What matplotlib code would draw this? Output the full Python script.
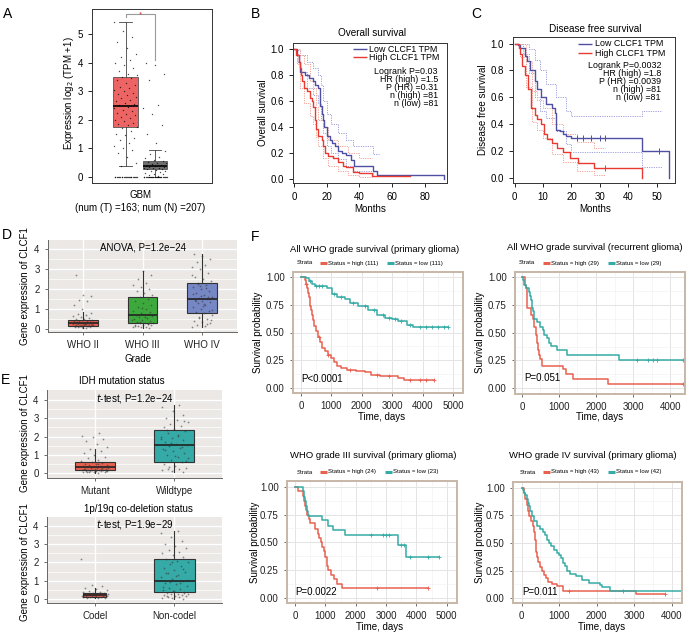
import numpy as np
import matplotlib
matplotlib.use('Agg')
import matplotlib.pyplot as plt
from matplotlib.lines import Line2D

plt.rcParams['font.family'] = ['Liberation Sans', 'DejaVu Sans']
plt.rcParams['font.size'] = 7
plt.rcParams['axes.unicode_minus'] = True

W, H = 696, 634
fig = plt.figure(figsize=(W / 100, H / 100), dpi=100)

# ---------------- data ----------------
# Panel A (GEPIA boxplot)
A_groups = ['Tumor', 'Normal']
A_tumor_stats = [1.75, 2.48, 3.5, 0.4, 5.42]   # q1, med, q3, whislo, whishi
A_normal_stats = [0.27, 0.38, 0.55, 0.0, 0.93]
A_tumor_pts = [0.0] * 22 + [0.4, 0.5, 0.7, 0.85, 0.95, 1.0, 1.1, 1.2, 1.3, 1.35, 1.45, 1.5, 1.6, 1.7, 1.75,
                            1.8, 1.85, 1.9, 1.95, 2.0, 2.05, 2.1, 2.15, 2.2, 2.25, 2.3, 2.35, 2.4, 2.45, 2.5,
                            2.55, 2.6, 2.65, 2.7, 2.75, 2.8, 2.85, 2.9, 2.95, 3.0, 3.05, 3.1, 3.15, 3.2, 3.3,
                            3.4, 3.45, 3.5, 3.55, 3.6, 3.7, 3.8, 3.9, 4.0, 4.1, 4.2, 4.3, 4.5, 4.7, 4.9, 5.1, 5.4]
A_normal_pts = [0.0] * 22 + [0.05, 0.08, 0.1, 0.12, 0.15, 0.18, 0.2, 0.22, 0.25, 0.27, 0.28, 0.3, 0.32, 0.33,
                             0.35, 0.36, 0.38, 0.4, 0.42, 0.45, 0.48, 0.5, 0.52, 0.55, 0.6, 0.65, 0.7, 0.8, 0.9,
                             1.2, 1.5, 1.8, 2.2, 2.4, 2.5, 3.4, 3.6, 3.9, 4.0]

# Panel B (overall survival, months)
B_low_t = [0, 2, 3, 4, 7, 9, 12, 13, 15, 16, 16.3, 17.3, 18, 18.7, 20.4, 22, 23.4, 25, 27, 29.5, 32, 35, 36.7, 48.5, 51, 91.6]
B_low_s = [1.0, 0.95, 0.9, 0.82, 0.8, 0.77, 0.75, 0.72, 0.7, 0.65, 0.56, 0.5, 0.45, 0.4, 0.33, 0.3, 0.27, 0.25, 0.21, 0.2, 0.18, 0.14, 0.1, 0.06, 0.025, 0.0]
B_high_t = [0, 1.5, 3, 3.8, 4.5, 5.3, 6, 8, 10, 11, 12, 13, 13.5, 15, 17, 18, 19, 21, 24, 27, 30, 32, 36, 40, 48, 71]
B_high_s = [1.0, 0.95, 0.9, 0.85, 0.8, 0.75, 0.7, 0.67, 0.62, 0.6, 0.55, 0.45, 0.38, 0.33, 0.3, 0.25, 0.2, 0.17, 0.16, 0.13, 0.1, 0.09, 0.05, 0.04, 0.02, 0.02]
B_ci_low_t = [0, 2, 4, 8, 12, 15, 16.5, 18, 20, 23, 27, 32, 36, 48.5, 52]
B_ci_low_up = [1.0, 0.99, 0.95, 0.9, 0.85, 0.8, 0.72, 0.6, 0.5, 0.42, 0.35, 0.3, 0.25, 0.19, 0.19]
B_ci_low_lo = [1.0, 0.9, 0.82, 0.7, 0.64, 0.58, 0.45, 0.35, 0.25, 0.2, 0.15, 0.1, 0.06, 0.02, 0.02]
B_ci_high_t = [0, 2, 4, 6, 10, 12, 13.5, 15, 18, 21, 27, 33, 40, 48]
B_ci_high_up = [1.0, 1.0, 0.95, 0.88, 0.75, 0.7, 0.55, 0.45, 0.4, 0.3, 0.25, 0.2, 0.16, 0.16]
B_ci_high_lo = [1.0, 0.88, 0.7, 0.58, 0.48, 0.42, 0.32, 0.25, 0.16, 0.1, 0.06, 0.03, 0.01, 0.01]
B_stats = ['Logrank P=0.03', 'HR (high) =1.5', 'P (HR) =0.31', 'n (high) =81', 'n (low) =81']

# Panel C (disease free survival, months)
C_low_t = [0, 1, 2, 3.7, 4.5, 5.5, 7, 8, 9.4, 11, 13, 14.3, 14.5, 16, 17, 18, 20, 44.7, 54.5]
C_low_s = [1.0, 0.99, 0.97, 0.91, 0.87, 0.8, 0.72, 0.66, 0.6, 0.55, 0.52, 0.48, 0.36, 0.35, 0.33, 0.31, 0.295, 0.2, 0.0]
C_high_t = [0, 1.5, 2, 2.5, 3.5, 4.7, 5.6, 7, 8, 9.4, 10.5, 11.5, 13, 15, 17, 19.5, 22.4, 28, 44.7]
C_high_s = [1.0, 0.97, 0.92, 0.83, 0.77, 0.66, 0.52, 0.47, 0.44, 0.4, 0.33, 0.29, 0.26, 0.22, 0.19, 0.15, 0.11, 0.075, 0.0]
C_low_cens = [22, 24, 27, 30, 32, 51]
C_high_cens = [32]
C_ci_low_t = [0, 3, 5, 7, 9, 11, 14.5, 18, 20, 44.7, 52]
C_ci_low_up = [1.0, 1.0, 0.96, 0.88, 0.8, 0.7, 0.6, 0.5, 0.46, 0.5, 0.5]
C_ci_low_lo = [1.0, 0.92, 0.78, 0.6, 0.5, 0.45, 0.35, 0.25, 0.19, 0.08, 0.08]
C_ci_high_t = [0, 2, 4, 6, 8, 10, 13, 17, 22, 28, 32]
C_ci_high_up = [1.0, 1.0, 0.87, 0.65, 0.58, 0.52, 0.4, 0.33, 0.27, 0.22, 0.22]
C_ci_high_lo = [1.0, 0.9, 0.68, 0.42, 0.36, 0.3, 0.18, 0.12, 0.05, 0.02, 0.02]
C_stats = ['Logrank P=0.0032', 'HR (high) =1.8', 'P (HR) =0.0039', 'n (high) =81', 'n (low) =81']

# Panel D (grade)
D_cats = ['WHO II', 'WHO III', 'WHO IV']
D_box = [[0.15, 0.3, 0.45, 0.03, 0.83], [0.32, 0.68, 1.58, 0.05, 2.92], [0.78, 1.5, 2.32, 0.1, 3.75]]
D_pts = [
    [0.05, 0.08, 0.1, 0.12, 0.14, 0.15, 0.16, 0.18, 0.19, 0.2, 0.21, 0.22, 0.23, 0.24, 0.25, 0.26, 0.27, 0.28,
     0.29, 0.3, 0.31, 0.32, 0.33, 0.35, 0.36, 0.38, 0.4, 0.42, 0.45, 0.48, 0.5, 0.55, 0.6, 0.65, 0.7, 0.75, 0.8,
     0.06, 0.09, 0.13, 0.17, 0.22, 0.27, 0.31, 0.37, 1.0, 1.2, 1.42, 1.47, 1.65, 1.72, 2.72],
    [0.05, 0.08, 0.1, 0.12, 0.15, 0.18, 0.2, 0.22, 0.25, 0.28, 0.3, 0.32, 0.35, 0.4, 0.45, 0.5, 0.55, 0.6, 0.65,
     0.68, 0.7, 0.75, 0.8, 0.9, 1.0, 1.1, 1.2, 1.3, 1.4, 1.5, 1.6, 1.7, 1.8, 1.9, 2.0, 2.1, 2.2, 2.3, 2.5, 2.7,
     2.9, 0.15, 0.25, 0.35, 0.45, 0.62, 0.72, 0.85, 1.05],
    [0.1, 0.15, 0.2, 0.3, 0.35, 0.4, 0.5, 0.6, 0.7, 0.8, 0.85, 0.9, 1.0, 1.1, 1.2, 1.3, 1.35, 1.4, 1.45, 1.5,
     1.55, 1.6, 1.7, 1.8, 1.9, 2.0, 2.1, 2.2, 2.3, 2.4, 2.5, 2.6, 2.8, 3.0, 3.1, 3.2, 3.35, 3.5, 3.65, 3.75,
     0.25, 0.55, 0.95, 1.25, 1.42, 1.52, 1.65, 1.75, 2.05, 2.25, 0.45, 1.15, 1.48, 1.58, 2.15, 2.7]]

# Panel E (IDH, 1p/19q)
E1_cats = ['Mutant', 'Wildtype']
E1_box = [[0.16, 0.35, 0.62, 0.02, 1.3], [0.63, 1.53, 2.36, 0.05, 3.72]]
E1_pts = [
    [0.02, 0.04, 0.05, 0.06, 0.08, 0.1, 0.11, 0.12, 0.13, 0.14, 0.15, 0.16, 0.17, 0.18, 0.19, 0.2, 0.22, 0.24,
     0.25, 0.27, 0.28, 0.3, 0.32, 0.33, 0.35, 0.37, 0.4, 0.42, 0.45, 0.48, 0.5, 0.55, 0.6, 0.65, 0.7, 0.8, 0.9,
     1.0, 1.1, 1.2, 1.3, 1.45, 1.6, 1.75, 1.85, 1.95, 2.05, 2.2, 0.07, 0.09, 0.14, 0.21, 0.26, 0.31, 0.38, 0.52],
    [0.05, 0.1, 0.15, 0.2, 0.25, 0.3, 0.4, 0.5, 0.6, 0.7, 0.8, 0.9, 1.0, 1.1, 1.2, 1.3, 1.4, 1.5, 1.55, 1.6,
     1.7, 1.8, 1.9, 2.0, 2.1, 2.2, 2.3, 2.4, 2.5, 2.6, 2.7, 2.8, 2.9, 3.0, 3.2, 3.4, 3.6, 3.72, 0.35, 0.65,
     0.95, 1.25, 1.45, 1.65, 1.85, 2.05, 2.35, 2.85]]
E2_cats = ['Codel', 'Non-codel']
E2_box = [[0.11, 0.24, 0.33, 0.05, 0.6], [0.38, 1.0, 2.2, 0.02, 3.72]]
E2_pts = [
    [0.05, 0.07, 0.08, 0.1, 0.11, 0.12, 0.13, 0.14, 0.15, 0.16, 0.17, 0.18, 0.19, 0.2, 0.21, 0.22, 0.23, 0.24,
     0.25, 0.26, 0.27, 0.28, 0.3, 0.32, 0.34, 0.36, 0.4, 0.45, 0.5, 0.55, 0.6, 0.7, 0.78, 2.2],
    [0.02, 0.05, 0.08, 0.1, 0.12, 0.15, 0.18, 0.2, 0.22, 0.25, 0.28, 0.3, 0.35, 0.4, 0.45, 0.5, 0.55, 0.6, 0.7,
     0.8, 0.9, 1.0, 1.1, 1.2, 1.3, 1.4, 1.5, 1.6, 1.7, 1.8, 1.9, 2.0, 2.1, 2.2, 2.3, 2.4, 2.5, 2.6, 2.7, 2.8,
     2.9, 3.0, 3.2, 3.4, 3.6, 3.72, 0.15, 0.32, 0.42, 0.65, 0.85, 0.95, 1.05, 1.25, 1.45, 1.65, 2.05]]

# Panel F (KM curves, days)
F1_high_t = [0, 130, 160, 190, 220, 250, 280, 310, 340, 370, 400, 440, 490, 550, 620, 700, 800, 900, 1000, 1100, 1200, 1300, 1500, 1800, 2100, 2300, 2600, 3200, 3400, 4380]
F1_high_s = [1.0, 0.97, 0.94, 0.9, 0.86, 0.82, 0.78, 0.74, 0.7, 0.66, 0.61, 0.56, 0.51, 0.46, 0.41, 0.36, 0.33, 0.3, 0.27, 0.23, 0.2, 0.18, 0.16, 0.15, 0.14, 0.12, 0.11, 0.09, 0.07, 0.07]
F1_low_t = [0, 150, 250, 350, 450, 850, 1010, 1175, 1450, 1600, 1890, 2200, 2500, 2770, 3000, 3200, 3480, 3700, 4850]
F1_low_s = [1.0, 0.99, 0.96, 0.94, 0.92, 0.9, 0.85, 0.82, 0.8, 0.77, 0.74, 0.7, 0.66, 0.63, 0.62, 0.6, 0.57, 0.55, 0.55]
F1_high_cens = [180, 600, 900, 1600, 2500, 2900, 3600, 3900, 4100, 4380]
F1_low_cens = [300, 500, 600, 700, 1100, 1300, 1700, 2100, 2400, 2700, 2900, 3100, 3300, 3600, 3900, 4100, 4300, 4500, 4700, 4850]

F2_high_t = [0, 80, 100, 130, 150, 240, 290, 320, 370, 400, 430, 470, 500, 540, 1120, 1200, 1390, 2310, 4350]
F2_high_s = [1.0, 0.93, 0.9, 0.83, 0.72, 0.66, 0.62, 0.55, 0.48, 0.41, 0.34, 0.3, 0.26, 0.2, 0.17, 0.13, 0.08, 0.04, 0.04]
F2_low_t = [0, 30, 60, 100, 200, 230, 250, 270, 290, 315, 400, 495, 560, 610, 675, 720, 790, 945, 1215, 2610, 4350]
F2_low_s = [1.0, 0.97, 0.93, 0.9, 0.86, 0.83, 0.79, 0.72, 0.69, 0.62, 0.59, 0.55, 0.52, 0.48, 0.45, 0.41, 0.38, 0.34, 0.3, 0.25, 0.25]
F2_high_cens = [4350]
F2_low_cens = [3100, 3400, 3550, 3650, 4350]

F3_high_t = [0, 100, 250, 290, 320, 350, 400, 450, 500, 650, 750, 800, 850, 900, 950, 1000, 1050, 1100, 1200, 1300, 1400, 1550, 4400]
F3_high_s = [1.0, 0.96, 0.92, 0.87, 0.83, 0.79, 0.75, 0.71, 0.67, 0.62, 0.58, 0.54, 0.5, 0.46, 0.42, 0.37, 0.29, 0.25, 0.21, 0.17, 0.13, 0.09, 0.09]
F3_low_t = [0, 250, 280, 320, 350, 380, 440, 900, 1100, 1250, 1650, 3400, 3650, 4750]
F3_low_s = [1.0, 0.96, 0.91, 0.87, 0.83, 0.78, 0.74, 0.70, 0.65, 0.61, 0.565, 0.48, 0.37, 0.37]
F3_high_cens = [2700, 4400]
F3_low_cens = [2500, 2900, 3000, 3100, 3500, 3600, 3800, 4400, 4750]

F4_high_t = [0, 50, 100, 150, 170, 190, 250, 300, 330, 350, 370, 390, 410, 440, 480, 550, 600, 650, 700, 800, 950, 1100, 3050, 3830]
F4_high_s = [1.0, 0.95, 0.9, 0.84, 0.79, 0.74, 0.7, 0.65, 0.6, 0.53, 0.48, 0.42, 0.37, 0.33, 0.28, 0.25, 0.21, 0.18, 0.15, 0.13, 0.11, 0.07, 0.035, 0.035]
F4_low_t = [0, 30, 60, 100, 150, 180, 200, 230, 280, 320, 400, 500, 580, 620, 680, 720, 780, 850, 930, 1000, 1050, 1100, 1150, 1200, 1280, 1450, 1600, 1800, 2100, 2150, 2350, 4450]
F4_low_s = [1.0, 0.98, 0.95, 0.93, 0.9, 0.86, 0.83, 0.79, 0.74, 0.7, 0.65, 0.63, 0.6, 0.57, 0.53, 0.5, 0.47, 0.44, 0.41, 0.39, 0.36, 0.32, 0.29, 0.25, 0.22, 0.2, 0.17, 0.14, 0.12, 0.1, 0.07, 0.07]
F4_high_cens = [1250, 3830]
F4_low_cens = [2700, 4450]

# ---------------- helpers ----------------
def add_ax(l, t, r, b):
    return fig.add_axes([l / W, 1 - b / H, (r - l) / W, (b - t) / H])

def ftext(x, y, s, **kw):
    kw.setdefault('ha', 'center')
    kw.setdefault('va', 'center')
    return fig.text(x / W, 1 - y / H, s, **kw)

def fline(x0, x1, y, color, lw):
    fig.add_artist(Line2D([x0 / W, x1 / W], [1 - y / H, 1 - y / H], color=color, lw=lw,
                          transform=fig.transFigure, solid_capstyle='butt'))

def jit(n, width, phase=0.0):
    return ((np.arange(1, n + 1) * 0.6180339887 + phase) % 1.0 - 0.5) * width

def stats_list(boxes):
    return [dict(q1=b[0], med=b[1], q3=b[2], whislo=b[3], whishi=b[4], fliers=[]) for b in boxes]

def step_at(t, s, x):
    t = np.asarray(t); s = np.asarray(s)
    return s[np.clip(np.searchsorted(t, x, side='right') - 1, 0, len(s) - 1)]

RED_F, TEAL_F = '#E8604F', '#35ABA6'
BLUE_B, RED_B = '#4F4FA3', '#E83A30'

# ---------------- Panel A ----------------
axA = add_ax(92, 9, 212, 183)
posA = [1.34, 2.52]
axA.bxp(stats_list([A_tumor_stats, A_normal_stats]),
        positions=posA, widths=0.98, patch_artist=True, showfliers=False, showcaps=True, capwidths=0.5,
        boxprops=dict(lw=0.6, edgecolor='#555555'),
        medianprops=dict(color='black', lw=1.2),
        whiskerprops=dict(color='#444444', lw=0.6), capprops=dict(color='#444444', lw=0.6))
for patch, c in zip(axA.patches, ['#EC6464', '#6E6E6E']):
    patch.set_facecolor(c)
for pos, pts, ph in zip(posA, [A_tumor_pts, A_normal_pts], [0.1, 0.4]):
    axA.scatter(pos + jit(len(pts), 0.95, ph), pts, s=1.0, color='black', alpha=0.7, lw=0, zorder=3)
axA.plot([posA[0], posA[0], posA[1], posA[1]], [5.58, 5.71, 5.71, 4.1], color='#9A9A9A', lw=0.8)
axA.text((posA[0] + posA[1]) / 2, 5.66, '*', color='#E83030', fontsize=6, ha='center', va='center')
axA.set_xlim(0, 4.8)
axA.set_ylim(-0.21, 5.87)
axA.set_xticks([])
axA.set_yticks([0, 1, 2, 3, 4, 5])
axA.tick_params(axis='y', labelsize=7, length=3, width=0.6)
for sp in axA.spines.values():
    sp.set_linewidth(0.7); sp.set_color('#333333')
ftext(69, 93, 'Expression log$_2$ (TPM +1)', rotation=90, fontsize=7)
ftext(140, 195, 'GBM', fontsize=7)
ftext(140, 208, '(num (T) =163; num (N) =207)', fontsize=7)

# ---------------- Panel B / C ----------------
def r_style(ax):
    for sp in ax.spines.values():
        sp.set_linewidth(0.7); sp.set_color('#333333')
    ax.tick_params(labelsize=7, length=3, width=0.6, direction='out')

axB = add_ax(293, 43, 447, 183)
for t, s, c in [(B_ci_low_t, B_ci_low_up, '#A0A0DC'), (B_ci_low_t, B_ci_low_lo, '#A0A0DC'),
                (B_ci_high_t, B_ci_high_up, '#F4A295'), (B_ci_high_t, B_ci_high_lo, '#F4A295')]:
    axB.step(t, s, where='post', color=c, lw=0.7, ls=(0, (1.2, 1.2)))
axB.step(B_low_t, B_low_s, where='post', color=BLUE_B, lw=1.0)
axB.step(B_high_t, B_high_s, where='post', color=RED_B, lw=1.0)
axB.set_xlim(-0.5, 93.7)
axB.set_ylim(-0.034, 1.043)
axB.set_xticks([0, 20, 40, 60, 80])
axB.set_yticks([0, 0.2, 0.4, 0.6, 0.8, 1.0])
axB.set_yticklabels(['0.0', '0.2', '0.4', '0.6', '0.8', '1.0'])
r_style(axB)
fline(353, 367, 49, BLUE_B, 1.0); ftext(369, 49, 'Low CLCF1 TPM', ha='left', fontsize=6.4)
fline(353, 367, 57, RED_B, 1.0); ftext(369, 57, 'High CLCF1 TPM', ha='left', fontsize=6.4)
for i, s in enumerate(B_stats):
    ftext(438, 71 + 8 * i, s, ha='right', fontsize=6.4)
ftext(372, 33, 'Overall survival', fontsize=7.2)
ftext(263, 113, 'Overall survival', rotation=90, fontsize=7)
ftext(370, 209, 'Months', fontsize=7)

axC = add_ax(513, 37, 675, 183)
for t, s, c in [(C_ci_low_t, C_ci_low_up, '#A0A0DC'), (C_ci_low_t, C_ci_low_lo, '#A0A0DC'),
                (C_ci_high_t, C_ci_high_up, '#F4A295'), (C_ci_high_t, C_ci_high_lo, '#F4A295')]:
    axC.step(t, s, where='post', color=c, lw=0.7, ls=(0, (1.2, 1.2)))
axC.step(C_low_t, C_low_s, where='post', color=BLUE_B, lw=1.0)
axC.step(C_high_t, C_high_s, where='post', color=RED_B, lw=1.0)
axC.plot(C_low_cens, step_at(C_low_t, C_low_s, C_low_cens), ls='none', marker='|', ms=4, mew=0.7, color=BLUE_B)
axC.plot(C_high_cens, step_at(C_high_t, C_high_s, C_high_cens), ls='none', marker='|', ms=4, mew=0.7, color=RED_B)
axC.set_xlim(-0.6, 56.5)
axC.set_ylim(-0.037, 1.049)
axC.set_xticks([0, 10, 20, 30, 40, 50])
axC.set_yticks([0, 0.2, 0.4, 0.6, 0.8, 1.0])
axC.set_yticklabels(['0.0', '0.2', '0.4', '0.6', '0.8', '1.0'])
r_style(axC)
fline(578, 592, 44, BLUE_B, 1.0); ftext(595, 44, 'Low CLCF1 TPM', ha='left', fontsize=6.4)
fline(578, 592, 53, RED_B, 1.0); ftext(595, 53, 'High CLCF1 TPM', ha='left', fontsize=6.4)
for i, s in enumerate(C_stats):
    ftext(661, 66 + 8 * i, s, ha='right', fontsize=6.4)
ftext(595, 29, 'Disease free survival', fontsize=7.2)
ftext(483, 110, 'Disease free survival', rotation=90, fontsize=7)
ftext(595, 209, 'Months', fontsize=7)

# ---------------- Panel D / E (ggplot style) ----------------
def gg_style(ax, ylim):
    ax.set_facecolor('#EBE8E6')
    ax.set_ylim(*ylim)
    ax.set_yticks([0, 1, 2, 3, 4])
    ax.set_yticks([0.5, 1.5, 2.5, 3.5], minor=True)
    ax.grid(which='major', color='white', lw=1.0)
    ax.grid(which='minor', axis='y', color='white', lw=0.5)
    ax.set_axisbelow(True)
    for k in ['top', 'right']:
        ax.spines[k].set_visible(False)
    for k in ['left', 'bottom']:
        ax.spines[k].set_color('#666666'); ax.spines[k].set_linewidth(0.7)
    ax.tick_params(which='major', labelsize=7, length=2.5, width=0.6, color='#555555', labelcolor='#222222')
    ax.tick_params(which='minor', length=0)

def gg_box(ax, boxes, pts, colors, widths, pos):
    ax.bxp(stats_list(boxes), positions=pos, widths=widths, patch_artist=True, showfliers=False,
           showcaps=False, boxprops=dict(lw=0.8, edgecolor='#333333'),
           medianprops=dict(color='#222222', lw=1.2),
           whiskerprops=dict(color='#333333', lw=0.8), zorder=2)
    for patch, c in zip(ax.patches, colors):
        patch.set_facecolor(c)
    for i, (p, v) in enumerate(zip(pos, pts)):
        ax.scatter(p + jit(len(v), 0.35, 0.2 * i), v, s=1.6, color='#333333', alpha=0.55, lw=0, zorder=3)

axD = add_ax(48, 240, 237, 332)
gg_style(axD, (-0.15, 4.45))
gg_box(axD, D_box, D_pts, ['#E8604F', '#3DA93D', '#7587C4'], [0.5, 0.5, 0.5], [1, 2, 3])
axD.set_xlim(0.41, 3.59)
axD.set_xticks([1, 2, 3])
axD.set_xticklabels(D_cats)
axD.text(2, 4.05, 'ANOVA, P=1.2e\u221224', ha='center', va='center', fontsize=7)
ftext(25, 286, 'Gene expression of CLCF1', rotation=90, fontsize=7)
ftext(138, 359, 'Grade', fontsize=7)

axE1 = add_ax(47, 390, 222, 478)
gg_style(axE1, (-0.27, 4.55))
gg_box(axE1, E1_box, E1_pts, ['#E8604F', '#36AAA6'], [0.5, 0.5], [1, 2])
axE1.set_xlim(0.4, 2.6)
axE1.set_xticks([1, 2])
axE1.set_xticklabels(E1_cats)
axE1.text(1.5, 4.1, '$t$-test, P=1.2e\u221224', ha='center', va='center', fontsize=7)
ftext(122, 381, 'IDH mutation status', fontsize=7)
ftext(25, 433, 'Gene expression of CLCF1', rotation=90, fontsize=7)

axE2 = add_ax(47, 517, 222, 603)
gg_style(axE2, (-0.22, 4.49))
gg_box(axE2, E2_box, E2_pts, ['#E8604F', '#36AAA6'], [0.29, 0.52], [1, 2])
axE2.set_xlim(0.4, 2.6)
axE2.set_xticks([1, 2])
axE2.set_xticklabels(E2_cats)
axE2.text(1.5, 4.1, '$t$-test, P=1.9e\u221229', ha='center', va='center', fontsize=7)
ftext(138, 509, '1p/19q co-deletion status', fontsize=7)
ftext(25, 562, 'Gene expression of CLCF1', rotation=90, fontsize=7)

# ---------------- Panel F ----------------
def f_panel(box, xlim, xticks, minor, ylim, curves, ptxt, pxy):
    ax = add_ax(*box)
    ax.set_facecolor('white')
    ax.set_xlim(*xlim); ax.set_ylim(*ylim)
    ax.set_xticks(xticks); ax.set_xticks(minor, minor=True)
    ax.set_yticks([0, 0.25, 0.5, 0.75, 1.0])
    ax.set_yticks([0.125, 0.375, 0.625, 0.875], minor=True)
    ax.set_yticklabels(['0.00', '0.25', '0.50', '0.75', '1.00'])
    ax.grid(which='major', color='#E4E4E4', lw=0.7)
    ax.grid(which='minor', color='#F0F0F0', lw=0.4)
    ax.set_axisbelow(True)
    for sp in ax.spines.values():
        sp.set_color('#C6B7A7'); sp.set_linewidth(1.4)
    ax.tick_params(which='major', labelsize=7, length=2.5, width=0.6, color='#555555', labelcolor='#222222')
    ax.tick_params(which='minor', length=0)
    for t, s, cens, c in curves:
        ax.step(t, s, where='post', color=c, lw=1.1)
        ax.plot(cens, step_at(t, s, cens), ls='none', marker='+', ms=3, mew=0.6, color=c)
    ax.text(pxy[0], pxy[1], ptxt, fontsize=7, ha='left', va='center')
    return ax

def f_legend(y, xs, lab_hi, lab_lo):
    ftext(xs[0], y, 'Strata', ha='left', fontsize=4.3)
    fline(xs[1], xs[1] + 7, y, RED_F, 2.2)
    ftext(xs[1] + 8, y, lab_hi, ha='left', fontsize=4.3)
    fline(xs[2], xs[2] + 7, y, TEAL_F, 2.2)
    ftext(xs[2] + 8, y, lab_lo, ha='left', fontsize=4.3)

f_panel((293, 272, 463, 393), (-263, 5329), [0, 1000, 2000, 3000, 4000, 5000],
        [500, 1500, 2500, 3500, 4500], (-0.045, 1.045),
        [(F1_high_t, F1_high_s, F1_high_cens, RED_F), (F1_low_t, F1_low_s, F1_low_cens, TEAL_F)],
        'P<0.0001', (0, 0.08))
ftext(375, 249, 'All WHO grade survival (primary glioma)', fontsize=6.8)
f_legend(263, [297, 320, 387], 'Status = high (111)', 'Status = low (111)')
ftext(258, 332, 'Survival probability', rotation=90, fontsize=7)
ftext(382, 417, 'Time, days', fontsize=7)

f_panel((515, 272, 685, 394), (-185, 4400), [0, 1000, 2000, 3000, 4000],
        [500, 1500, 2500, 3500], (-0.05, 1.042),
        [(F2_high_t, F2_high_s, F2_high_cens, RED_F), (F2_low_t, F2_low_s, F2_low_cens, TEAL_F)],
        'P=0.051', (70, 0.09))
ftext(595, 248, 'All WHO grade survival (recurrent glioma)', fontsize=6.8)
f_legend(263, [519, 543, 608], 'Status = high (29)', 'Status = low (29)')
ftext(480, 332, 'Survival probability', rotation=90, fontsize=7)
ftext(600, 417, 'Time, days', fontsize=7)

f_panel((287, 481, 457, 603), (-264, 5340), [0, 1000, 2000, 3000, 4000, 5000],
        [500, 1500, 2500, 3500, 4500], (-0.042, 1.05),
        [(F3_high_t, F3_high_s, F3_high_cens, RED_F), (F3_low_t, F3_low_s, F3_low_cens, TEAL_F)],
        'P=0.0022', (20, 0.055))
ftext(373, 455, 'WHO grade III survival (primary glioma)', fontsize=6.8)
f_legend(472, [297, 320, 385], 'Status = high (24)', 'Status = low (23)')
ftext(255, 542, 'Survival probability', rotation=90, fontsize=7)
ftext(380, 627, 'Time, days', fontsize=7)

f_panel((513, 482, 682, 603), (-232, 4276), [0, 1000, 2000, 3000, 4000],
        [500, 1500, 2500, 3500], (-0.042, 1.05),
        [(F4_high_t, F4_high_s, F4_high_cens, RED_F), (F4_low_t, F4_low_s, F4_low_cens, TEAL_F)],
        'P=0.011', (10, 0.055))
ftext(593, 456, 'WHO grade IV survival (primary glioma)', fontsize=6.8)
f_legend(472, [520, 543, 608], 'Status = high (43)', 'Status = low (42)')
ftext(480, 542, 'Survival probability', rotation=90, fontsize=7)
ftext(602, 627, 'Time, days', fontsize=7)

# ---------------- panel letters ----------------
for lab, x, y in [('A', 8, 14), ('B', 255, 14), ('C', 476, 14), ('D', 7, 235), ('E', 6, 380), ('F', 255, 237)]:
    ftext(x, y, lab, fontsize=10)

fig.savefig('out.png', dpi=100)
